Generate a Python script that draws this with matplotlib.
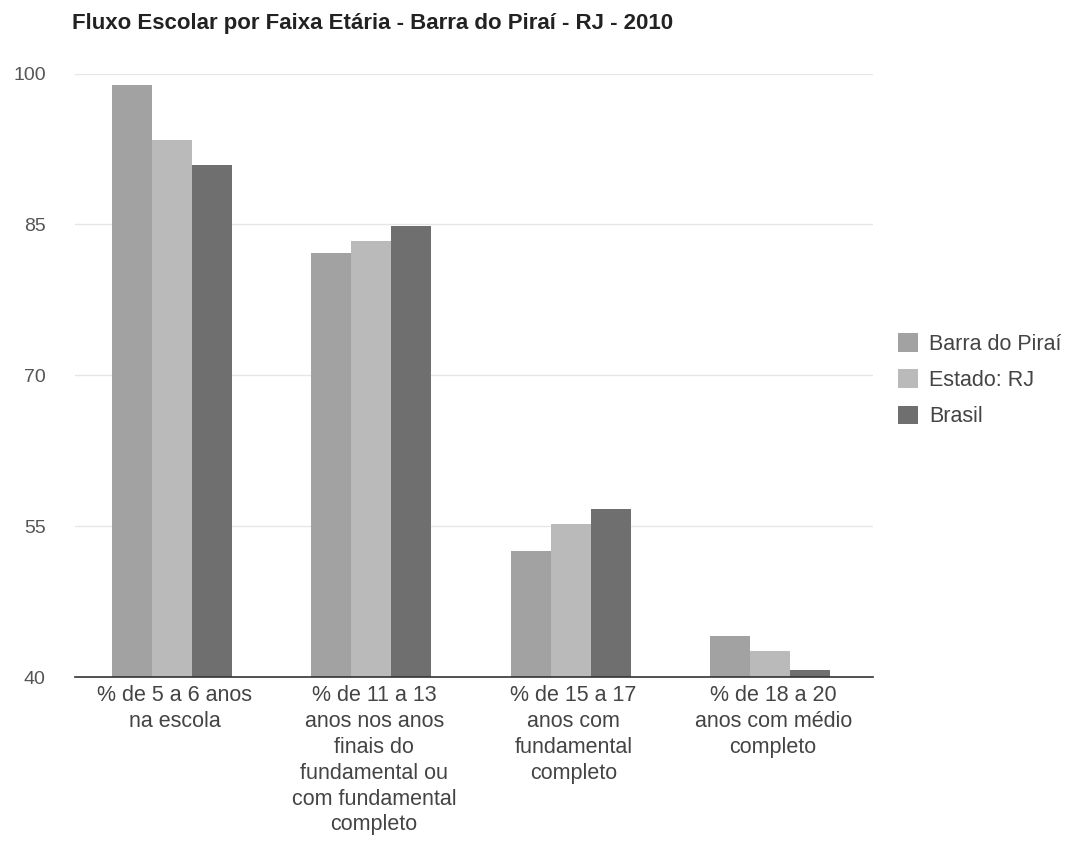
import matplotlib.pyplot as plt
import numpy as np

plt.rcParams['font.family'] = ['Liberation Sans', 'DejaVu Sans']

categorias = [
    "% de 5 a 6 anos\nna escola",
    "% de 11 a 13\nanos nos anos\nfinais do\nfundamental ou\ncom fundamental\ncompleto",
    "% de 15 a 17\nanos com\nfundamental\ncompleto",
    "% de 18 a 20\nanos com médio\ncompleto",
]
barra_do_pirai = [98.9, 82.2, 52.5, 44.1]
estado_rj = [93.4, 83.4, 55.2, 42.6]
brasil = [90.9, 84.8, 56.7, 40.7]
series = ["Barra do Piraí", "Estado: RJ", "Brasil"]
cores = ["#a2a2a2", "#bababa", "#6f6f6f"]
y_ticks = [40, 55, 70, 85, 100]

fig = plt.figure(figsize=(10.71, 8.56), dpi=100)
ax = fig.add_axes([0.070, 0.209, 0.745, 0.705])

x = np.arange(len(categorias))
w = 0.2
for i, (vals, nome, cor) in enumerate(zip([barra_do_pirai, estado_rj, brasil], series, cores)):
    ax.bar(x + (i - 1) * w - 0.015, np.array(vals) - 40, bottom=40, width=w,
           color=cor, label=nome, zorder=2)

ax.set_xlim(-0.5, len(categorias) - 0.5)
ax.set_ylim(40, 100)
ax.set_yticks(y_ticks)
ax.set_yticklabels([str(t) for t in y_ticks], fontsize=14, color="#555555")
ax.set_xticks(x)
ax.set_xticklabels(categorias, fontsize=15.5, color="#444444", linespacing=1.3)
ax.tick_params(axis="both", length=0)
ax.tick_params(axis="y", pad=21)
ax.tick_params(axis="x", pad=6)
for t in y_ticks[1:]:
    ax.axhline(t, color="#e6e6e6", lw=1, zorder=1)
for s in ["top", "right", "left"]:
    ax.spines[s].set_visible(False)
ax.spines["bottom"].set_color("#333333")
ax.spines["bottom"].set_linewidth(1.2)
ax.spines["bottom"].set_zorder(3)

fig.text(0.067, 0.972, "Fluxo Escolar por Faixa Etária - Barra do Piraí - RJ - 2010",
         fontsize=16, fontweight="bold", color="#222222", va="center")

leg = ax.legend(loc="center left", bbox_to_anchor=(1.018, 0.492), frameon=False,
                fontsize=15.5, handlelength=0.93, handleheight=0.93,
                handletextpad=0.5, labelspacing=0.68, borderpad=0)
for txt in leg.get_texts():
    txt.set_color("#444444")

fig.savefig("out.png", dpi=100)
